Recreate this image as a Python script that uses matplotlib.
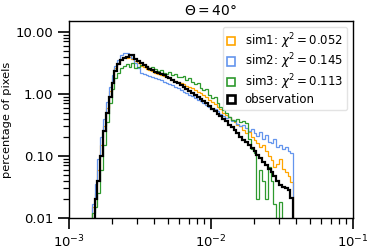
import numpy as np
import matplotlib
matplotlib.use('Agg')
import matplotlib.pyplot as plt
from matplotlib.patches import Patch
from matplotlib.ticker import LogLocator, FormatStrFormatter

# log-spaced bins, 50 per decade; values below cover bins 8..78
bin_edges = np.logspace(-3, -1, 101)
first_bin = 8

sim1 = [0.015, 0.025, 0.06, 0.15, 0.3, 0.6, 1.1, 1.8, 2.6, 3.2, 3.7, 3.9, 3.8, 3.9,
        3.7, 3.4, 3.1, 2.85, 2.7, 2.5, 2.4, 2.3, 2.2, 2.1, 2.0, 1.92, 1.85, 1.78, 1.7,
        1.62, 1.55, 1.48, 1.42, 1.36, 1.30, 1.22, 1.15, 1.08, 1.02, 0.95, 0.88, 0.80,
        0.74, 0.68, 0.62, 0.56, 0.50, 0.45, 0.42, 0.38, 0.35, 0.32, 0.30, 0.26, 0.23,
        0.24, 0.20, 0.18, 0.16, 0.14, 0.15, 0.12, 0.10, 0.085, 0.065, 0.075, 0.088,
        0.062, 0.055, 0.047, 0.038]

sim2 = [0.017, 0.035, 0.09, 0.2, 0.4, 0.75, 1.3, 2.0, 2.8, 3.5, 4.2, 4.6, 4.5, 4.3,
        3.8, 3.1, 2.6, 2.2, 2.1, 2.0, 1.95, 1.85, 1.78, 1.72, 1.65, 1.58, 1.52, 1.45,
        1.38, 1.3, 1.22, 1.15, 1.08, 1.02, 0.96, 0.91, 0.86, 0.81, 0.76, 0.72, 0.67,
        0.62, 0.58, 0.56, 0.52, 0.48, 0.44, 0.41, 0.42, 0.37, 0.38, 0.33, 0.30, 0.31,
        0.28, 0.25, 0.27, 0.23, 0.21, 0.24, 0.19, 0.22, 0.17, 0.16, 0.19, 0.14, 0.15,
        0.13, 0.14, 0.12, 0.11]

sim3 = [0.012, 0.015, 0.025, 0.06, 0.15, 0.35, 0.7, 1.2, 1.8, 2.2, 2.6, 2.8, 3.0,
        2.7, 3.1, 2.6, 2.7, 2.9, 2.9, 2.8, 2.6, 2.7, 2.5, 2.3, 2.45, 2.2, 2.1, 2.25,
        2.0, 2.1, 1.9, 1.85, 1.95, 1.7, 1.8, 1.55, 1.45, 1.5, 1.25, 1.15, 1.2, 0.95,
        0.85, 0.9, 0.7, 0.62, 0.55, 0.5, 0.42, 0.38, 0.36, 0.40, 0.35, 0.37, 0.34,
        0.19, 0.13, 0.11, 0.02, 0.06, 0.04, 0.02, 0.065, 0.04, 0.017, 0, 0.018, 0, 0,
        0, 0]

observation = [0, 0.02, 0.04, 0.10, 0.25, 0.50, 0.90, 1.5, 2.3, 3.0, 3.5, 3.8, 4.0,
               4.2, 4.3, 3.7, 3.4, 3.15, 2.95, 2.75, 2.55, 2.4, 2.28, 2.18, 2.08, 1.98,
               1.88, 1.78, 1.68, 1.58, 1.48, 1.38, 1.29, 1.20, 1.12, 1.04, 0.97, 0.90,
               0.83, 0.76, 0.70, 0.64, 0.58, 0.53, 0.48, 0.44, 0.40, 0.36, 0.32, 0.29,
               0.26, 0.23, 0.20, 0.18, 0.165, 0.15, 0.135, 0.12, 0.105, 0.092, 0.08,
               0.07, 0.062, 0.055, 0.047, 0.040, 0.034, 0.031, 0.030, 0.028, 0.021]

labels = [r'sim1: $\chi^2 = 0.052$', r'sim2: $\chi^2 = 0.145$',
          r'sim3: $\chi^2 = 0.113$', 'observation']
colors = ['#ffa500', '#6495ed', '#2e9a2e', 'black']
widths = [0.9, 0.9, 0.9, 1.6]


def main():
    fig = plt.figure(figsize=(3.73, 2.49), dpi=100)
    ax = fig.add_axes([0.185, 0.125, 0.761, 0.791])

    series = [sim1, sim2, sim3, observation]
    handles = []
    for vals, lab, col, lw in zip(series, labels, colors, widths):
        edges = bin_edges[first_bin:first_bin + len(vals) + 1]
        ax.stairs(vals, edges, baseline=0, color=col, lw=lw)
        handles.append(Patch(facecolor='none', edgecolor=col, lw=lw + 0.3, label=lab))

    ax.set_xscale('log')
    ax.set_yscale('log')
    ax.set_xlim(1e-3, 1e-1)
    ax.set_ylim(0.01, 15)

    ax.yaxis.set_major_locator(LogLocator(base=10, numticks=10))
    ax.yaxis.set_major_formatter(FormatStrFormatter('%.2f'))
    ax.yaxis.set_minor_locator(LogLocator(base=10, subs=np.arange(2, 10), numticks=10))
    ax.yaxis.set_minor_formatter(plt.NullFormatter())

    ax.tick_params(which='major', direction='out', length=8, width=1.2, labelsize=9.5)
    ax.tick_params(which='minor', direction='out', length=4.5, width=0.9)
    for sp in ax.spines.values():
        sp.set_linewidth(1.0)

    ax.set_ylabel('percentage of pixels', fontsize=8.2)
    ax.yaxis.set_label_coords(-0.2, 0.5)
    ax.set_title(r'$\Theta = 40°$', fontsize=10, pad=4)

    ax.legend(handles=handles, loc='upper right', fontsize=8.5, handlelength=0.7,
              handleheight=0.7, handletextpad=0.8, borderpad=0.35, labelspacing=0.1,
              framealpha=0.8, edgecolor='#dddddd', fancybox=True)

    fig.savefig('out.png', dpi=100)


if __name__ == '__main__':
    main()
